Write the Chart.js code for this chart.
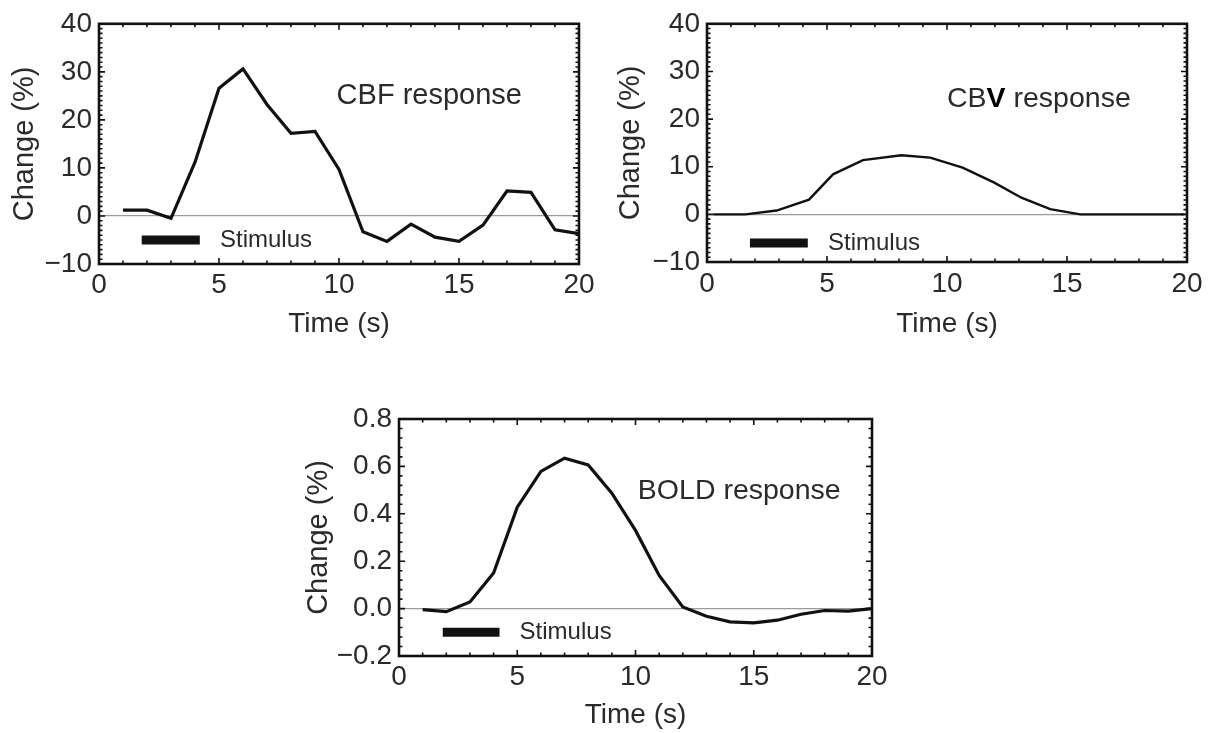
<!DOCTYPE html>
<html>
<head>
<meta charset="utf-8">
<script src="https://cdn.jsdelivr.net/npm/chart.js@4.4.1/dist/chart.umd.min.js"></script>
<style>
html,body{margin:0;padding:0;background:#fff;}
body{width:1215px;height:733px;position:relative;overflow:hidden;}
canvas{position:absolute;display:block;}
</style>
</head>
<body>
<canvas id="cbf" width="600" height="345" style="left:0px;top:0px;width:600px;height:345px"></canvas>
<canvas id="cbv" width="610" height="345" style="left:605px;top:0px;width:610px;height:345px"></canvas>
<canvas id="bold" width="610" height="338" style="left:290px;top:395px;width:610px;height:338px"></canvas>
<script>
// ---------------- data ----------------
const cbfTime   = [1,2,3,4,5,6,7,8,9,10,11,12,13,14,15,16,17,18,19,20];
const cbfChange = [1.2,1.2,-0.5,11.2,26.6,30.6,23.2,17.2,17.6,9.7,-3.3,-5.3,-1.7,-4.4,-5.3,-1.9,5.2,4.9,-2.9,-3.7];

const cbvTime   = [0.26,1.6,2.9,4.25,5.25,6.5,8.1,9.3,10.65,11.95,13.1,14.3,15.55,16.65,19.9];
const cbvChange = [0,0,0.8,3.1,8.4,11.4,12.4,11.9,9.8,6.7,3.5,1.1,0,0,0];

const boldTime   = [1,2,3,4,5,6,7,8,9,10,11,12,13,14,15,16,17,18,19,20];
const boldChange = [-0.004,-0.013,0.028,0.15,0.428,0.579,0.635,0.606,0.487,0.33,0.14,0.007,-0.032,-0.056,-0.06,-0.049,-0.024,-0.008,-0.011,0];

const stimulusCBF  = [1.78, 4.2];
const stimulusCBV  = [1.79, 4.2];
const stimulusBOLD = [1.85, 4.25];

const timeTicks    = [0, 5, 10, 15, 20];
const pctTicks     = [-10, 0, 10, 20, 30, 40];
const boldPctTicks = [-0.2, 0.0, 0.2, 0.4, 0.6, 0.8];

// ---------------- style ----------------
const FONT = '"Liberation Sans", Arial, Helvetica, sans-serif';
const TXT = '#2a2a2a';
const INK = '#111111';

const framePlugin = {
  id: 'frame',
  afterDatasetsDraw(chart, args, o) {
    const {ctx, chartArea: a, scales: {x, y}} = chart;
    ctx.save();
    ctx.strokeStyle = INK;
    ctx.lineWidth = 1.6;
    ctx.beginPath();
    const nx = Math.round((x.max - x.min) / o.xMinor);
    for (let i = 0; i <= nx; i++) {
      const v = x.min + i * o.xMinor;
      const px = x.getPixelForValue(v);
      const len = (i % o.xEvery === 0) ? 6 : 3.5;
      ctx.moveTo(px, a.bottom); ctx.lineTo(px, a.bottom - len);
      ctx.moveTo(px, a.top); ctx.lineTo(px, a.top + len);
    }
    const ny = Math.round((y.max - y.min) / o.yMinor);
    for (let i = 0; i <= ny; i++) {
      const v = y.min + i * o.yMinor;
      const py = y.getPixelForValue(v);
      const len = (i % o.yEvery === 0) ? 6 : 3.5;
      ctx.moveTo(a.left, py); ctx.lineTo(a.left + len, py);
      ctx.moveTo(a.right, py); ctx.lineTo(a.right - len, py);
    }
    ctx.stroke();
    ctx.lineWidth = 2.6;
    ctx.strokeRect(a.left, a.top, a.right - a.left, a.bottom - a.top);
    ctx.restore();
  }
};

const notesPlugin = {
  id: 'notes',
  afterDatasetsDraw(chart, args, o) {
    const {ctx, scales: {x, y}} = chart;
    ctx.save();
    ctx.textBaseline = 'middle';
    ctx.textAlign = 'left';
    (o.items || []).forEach(it => {
      let px = x.getPixelForValue(it.x);
      const py = y.getPixelForValue(it.y);
      it.parts.forEach(p => {
        ctx.font = (p.bold ? 'bold ' : '') + it.size + 'px ' + FONT;
        ctx.fillStyle = p.bold ? '#000' : TXT;
        ctx.fillText(p.text, px, py);
        px += ctx.measureText(p.text).width;
      });
    });
    ctx.restore();
  }
};

function fmt(dec) {
  return v => {
    if (Math.abs(v) < 1e-9) v = 0;
    return (v < 0 ? '\u2212' : '') + Math.abs(v).toFixed(dec);
  };
}

function makeChart(id, c) {
  return new Chart(document.getElementById(id), {
    type: 'line',
    data: {
      datasets: [
        {
          data: c.t.map((t, i) => ({x: t, y: c.v[i]})),
          borderColor: INK, borderWidth: c.lw, pointRadius: 0, tension: 0, fill: false
        },
        {
          data: c.stim.map(t => ({x: t, y: c.stimY})),
          borderColor: INK, borderWidth: 9, borderCapStyle: 'butt', pointRadius: 0, fill: false
        }
      ]
    },
    options: {
      responsive: false, animation: false, events: [],
      layout: {padding: {top: c.top, right: c.right, left: 0, bottom: 0}},
      plugins: {
        legend: {display: false}, tooltip: {enabled: false},
        frame: c.frame,
        notes: {items: c.notes}
      },
      scales: {
        x: {
          type: 'linear', min: timeTicks[0], max: timeTicks[timeTicks.length - 1],
          afterBuildTicks: s => { s.ticks = timeTicks.map(v => ({value: v})); },
          ticks: {font: {family: FONT, size: 28}, color: TXT, padding: c.xPad, maxRotation: 0},
          grid: {display: false, drawTicks: false},
          border: {display: false},
          title: {display: true, text: 'Time (s)', color: TXT, font: {family: FONT, size: 28}, padding: {top: 0, bottom: c.xTitlePad}},
          afterFit: s => { s.height = c.xH; }
        },
        y: {
          type: 'linear', min: c.yTicks[0], max: c.yTicks[c.yTicks.length - 1],
          afterBuildTicks: s => { s.ticks = c.yTicks.map(v => ({value: v})); },
          ticks: {font: {family: FONT, size: 28}, color: TXT, padding: 7, callback: fmt(c.dec)},
          grid: {
            drawTicks: false, lineWidth: 1.3,
            color: ctx => (ctx.tick && Math.abs(ctx.tick.value) < 1e-9) ? '#9a9a9a' : 'rgba(0,0,0,0)'
          },
          border: {display: false},
          title: {display: true, text: 'Change (%)', color: TXT, font: {family: FONT, size: 29}, padding: {top: c.yTitlePad, bottom: 0}},
          afterFit: s => { s.width = c.yW; }
        }
      }
    },
    plugins: [framePlugin, notesPlugin]
  });
}

makeChart('cbf', {
  t: cbfTime, v: cbfChange, lw: 3.2, stim: stimulusCBF, stimY: -5,
  yTicks: pctTicks, dec: 0,
  top: 23, right: 21, yW: 99, xH: 81, xPad: 4, xTitlePad: 4, yTitlePad: 8,
  frame: {xMinor: 1, xEvery: 5, yMinor: 1, yEvery: 10},
  notes: [
    {x: 9.9, y: 25, size: 29, parts: [{text: 'CBF response'}]},
    {x: 5.04, y: -5.1, size: 24, parts: [{text: 'Stimulus'}]}
  ]
});

makeChart('cbv', {
  t: cbvTime, v: cbvChange, lw: 2.4, stim: stimulusCBV, stimY: -6,
  yTicks: pctTicks, dec: 0,
  top: 22, right: 28, yW: 102, xH: 83, xPad: 5, xTitlePad: 4, yTitlePad: 9,
  frame: {xMinor: 1, xEvery: 5, yMinor: 1, yEvery: 10},
  notes: [
    {x: 10.0, y: 24.1, size: 28.5, parts: [{text: 'CB'}, {text: 'V', bold: true}, {text: ' response'}]},
    {x: 5.04, y: -6, size: 24, parts: [{text: 'Stimulus'}]}
  ]
});

makeChart('bold', {
  t: boldTime, v: boldChange, lw: 3.2, stim: stimulusBOLD, stimY: -0.1,
  yTicks: boldPctTicks, dec: 1,
  top: 24, right: 28, yW: 109, xH: 77, xPad: 4, xTitlePad: 1, yTitlePad: 12,
  frame: {xMinor: 1, xEvery: 5, yMinor: 0.04, yEvery: 5},
  notes: [
    {x: 10.1, y: 0.494, size: 28.5, parts: [{text: 'BOLD response'}]},
    {x: 5.1, y: -0.1, size: 24, parts: [{text: 'Stimulus'}]}
  ]
});
</script>
</body>
</html>
